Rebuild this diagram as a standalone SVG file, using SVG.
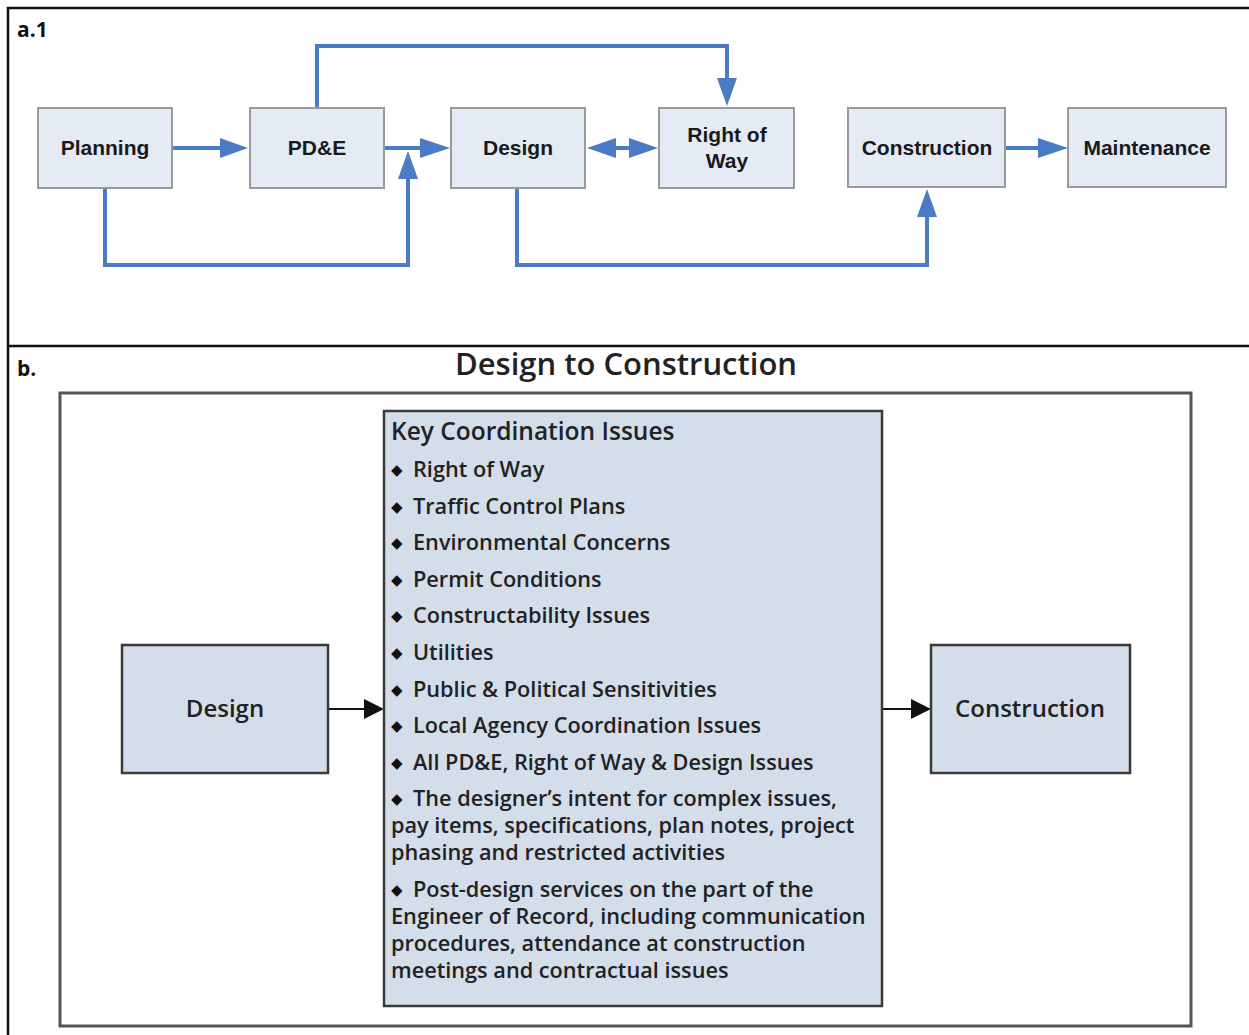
<svg xmlns="http://www.w3.org/2000/svg" width="1249" height="1035" viewBox="0 0 1249 1035">
<defs>
<style>
.frame{stroke:#111;stroke-width:2.5;fill:none}
.nodeA{fill:#e5ebf5;stroke:#9a9a9a;stroke-width:2}
.labA{font-family:"Liberation Sans",Arial,sans-serif;font-weight:bold;font-size:21px;fill:#1a1a1a;text-anchor:middle}
.blue{stroke:#4a7bc4;stroke-width:4;fill:none}
.nodeB{fill:#d4ddea;stroke:#3a3a3a;stroke-width:2.5}
.labB{font-family:"Open Sans","Noto Sans",sans-serif;font-weight:600;fill:#222;}
.item{font-size:21.7px}
.bul{font-family:"DejaVu Sans",sans-serif;font-size:15px;fill:#111}
.blk{stroke:#111;stroke-width:2;fill:none}
.panel{font-family:"Open Sans",sans-serif;font-weight:bold;font-size:21px;fill:#111}
</style>
</defs>
<rect width="1249" height="1035" fill="#fff"/>
<g id="frame">
<path class="frame" d="M1249,8 H8 V1035"/>
<line class="frame" x1="8" y1="346" x2="1249" y2="346"/>
<text class="panel" x="17" y="37">a.1</text>
<text class="panel" x="17" y="376">b.</text>
</g>
<g id="connectors-a">
<path class="blue" d="M172,148 H222"/>
<path class="blue" d="M384,148 H422"/>
<path class="blue" d="M105,188 V265 H408 V178"/>
<path class="blue" d="M317,108 V46 H727 V80"/>
<path class="blue" d="M615,148 H630"/>
<path class="blue" d="M517,188 V265 H927 V216"/>
<path class="blue" d="M1005,148 H1040"/>
<g fill="#4a7bc4">
<polygon points="248,148 220,138 220,158"/>
<polygon points="450,148 420,138 420,158"/>
<polygon points="408,151 398,179 418,179"/>
<polygon points="727,106 717,78 737,78"/>
<polygon points="587,148 616,138 616,158"/>
<polygon points="658,148 629,138 629,158"/>
<polygon points="927,189 917,217 937,217"/>
<polygon points="1068,148 1038,138 1038,158"/>
</g>
</g>
<g id="planning"><rect class="nodeA" x="38" y="108" width="134" height="80"/><text class="labA" x="105" y="155">Planning</text></g>
<g id="pde"><rect class="nodeA" x="250" y="108" width="134" height="80"/><text class="labA" x="317" y="155">PD&amp;E</text></g>
<g id="design-a"><rect class="nodeA" x="451" y="108" width="134" height="80"/><text class="labA" x="518" y="155">Design</text></g>
<g id="row"><rect class="nodeA" x="659" y="108" width="135" height="80"/><text class="labA" x="727" y="142">Right of</text><text class="labA" x="727" y="168">Way</text></g>
<g id="construction-a"><rect class="nodeA" x="848" y="108" width="157" height="79"/><text class="labA" x="927" y="155">Construction</text></g>
<g id="maintenance"><rect class="nodeA" x="1068" y="108" width="158" height="79"/><text class="labA" x="1147" y="155">Maintenance</text></g>

<text class="labB" x="626" y="375" font-size="31" font-weight="bold" text-anchor="middle">Design to Construction</text>
<g id="outer-box"><rect x="60" y="393" width="1131" height="633" fill="#fff" stroke="#555" stroke-width="3"/></g>
<g id="connectors-b">
<path class="blk" d="M328,709 H366"/>
<path class="blk" d="M882,709 H913"/>
<polygon points="384,709 364,699 364,719" fill="#111"/>
<polygon points="931,709 911,699 911,719" fill="#111"/>
</g>
<g id="design-b"><rect class="nodeB" x="122" y="645" width="206" height="128"/><text class="labB" x="225" y="717" font-size="24" text-anchor="middle">Design</text></g>
<g id="construction-b"><rect class="nodeB" x="931" y="645" width="199" height="128"/><text class="labB" x="1030" y="717" font-size="24" text-anchor="middle">Construction</text></g>
<g id="key-issues">
<rect class="nodeB" x="384" y="411" width="498" height="595"/>
<text class="labB" x="391" y="440" font-size="24.5">Key Coordination Issues</text>
<g class="bul">
<text x="391" y="475">◆</text>
<text x="391" y="512">◆</text>
<text x="391" y="548">◆</text>
<text x="391" y="585">◆</text>
<text x="391" y="621">◆</text>
<text x="391" y="658">◆</text>
<text x="391" y="695">◆</text>
<text x="391" y="731">◆</text>
<text x="391" y="768">◆</text>
<text x="391" y="804">◆</text>
<text x="391" y="895">◆</text>
</g>
<g class="labB item">
<text x="413" y="477">Right of Way</text>
<text x="413" y="514">Traffic Control Plans</text>
<text x="413" y="550">Environmental Concerns</text>
<text x="413" y="587">Permit Conditions</text>
<text x="413" y="623">Constructability Issues</text>
<text x="413" y="660">Utilities</text>
<text x="413" y="697">Public &amp; Political Sensitivities</text>
<text x="413" y="733">Local Agency Coordination Issues</text>
<text x="413" y="770">All PD&amp;E, Right of Way &amp; Design Issues</text>
<text x="413" y="806">The designer’s intent for complex issues,</text>
<text x="391" y="833">pay items, specifications, plan notes, project</text>
<text x="391" y="860">phasing and restricted activities</text>
<text x="413" y="897">Post-design services on the part of the</text>
<text x="391" y="924">Engineer of Record, including communication</text>
<text x="391" y="951">procedures, attendance at construction</text>
<text x="391" y="978">meetings and contractual issues</text>
</g>
</g>
</svg>
